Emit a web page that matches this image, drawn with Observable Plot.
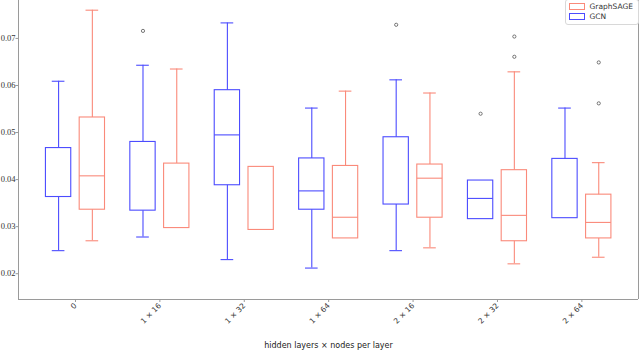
<!DOCTYPE html>
<html>
<head>
<meta charset="utf-8">
<script src="https://cdn.jsdelivr.net/npm/d3@7"></script>
<script src="https://cdn.jsdelivr.net/npm/@observablehq/plot@0.6"></script>
<style>
  body { margin: 0; background: #fff; }
  #wrap { position: relative; width: 640px; height: 352px; overflow: hidden; }
  #legend { position: absolute; top: -1px; right: 1px; background: #fff; border: 1px solid #d8d8d8; border-radius: 3px;
            padding: 2px 5px 2px 3px; font: 7.5px "DejaVu Sans", sans-serif; color: #333; line-height: 10px; }
  #legend .sw { display: inline-block; width: 14px; height: 5px; border: 1px solid; vertical-align: middle; margin-right: 5px; }
</style>
</head>
<body>
<div id="wrap"></div>
<script>
// ---- data ----
const categories = ["0", "1 × 16", "1 × 32", "1 × 64", "2 × 16", "2 × 32", "2 × 64"];
const series = ["GraphSAGE", "GCN"];
const colors = ["#fa8a7a", "#4c4cff"];

// GCN box statistics (null = not drawn in the reference)
const gcnLo  = [0.0249, 0.0278, 0.0230, 0.0212, 0.0249, null,   null];
const gcnQ1  = [0.0363, 0.0334, 0.0388, 0.0336, 0.0347, 0.0316, 0.0318];
const gcnMed = [null,   null,   0.0495, 0.0376, null,   0.0360, null];
const gcnQ3  = [0.0467, 0.0480, 0.0590, 0.0445, 0.0490, 0.0398, 0.0444];
const gcnHi  = [0.0609, 0.0643, 0.0733, 0.0552, 0.0612, null,   0.0552];
const gcnOut = [[], [0.0716], [], [], [0.0729], [0.0540], []];

// GraphSAGE box statistics
const sageLo  = [0.0270, null,   null,   null,   0.0255, 0.0221, 0.0235];
const sageQ1  = [0.0336, 0.0297, 0.0293, 0.0275, 0.0319, 0.0269, 0.0275];
const sageMed = [0.0408, null,   null,   0.0320, 0.0403, 0.0324, 0.0309];
const sageQ3  = [0.0532, 0.0434, 0.0427, 0.0429, 0.0432, 0.0420, 0.0368];
const sageHi  = [0.0760, 0.0635, null,   0.0588, 0.0584, 0.0629, 0.0436];
const sageOut = [[], [], [], [], [], [0.0704, 0.0661], [0.0649, 0.0562]];

const yTicks = [0.02, 0.03, 0.04, 0.05, 0.06, 0.07];
const xLabel = "hidden layers × nodes per layer";

// ---- layout ----
const offset = {GCN: -0.2, GraphSAGE: 0.2};
const boxHalf = 0.15, capHalf = 0.075;
const xDomain = [-0.675, 6.671];
const yDomain = [0.01452, 0.07806];

const stats = {
  GCN: {lo: gcnLo, q1: gcnQ1, med: gcnMed, q3: gcnQ3, hi: gcnHi, out: gcnOut},
  GraphSAGE: {lo: sageLo, q1: sageQ1, med: sageMed, q3: sageQ3, hi: sageHi, out: sageOut}
};
const rows = [];
const outliers = [];
for (const s of series) {
  const st = stats[s];
  categories.forEach((c, i) => {
    const cx = i + offset[s];
    rows.push({s, i, cx, lo: st.lo[i], q1: st.q1[i], med: st.med[i], q3: st.q3[i], hi: st.hi[i]});
    st.out[i].forEach(v => outliers.push({s, cx, v}));
  });
}
const has = k => rows.filter(d => d[k] != null);

const chart = Plot.plot({
  width: 640, height: 352,
  marginLeft: 18, marginRight: 2, marginTop: 0, marginBottom: 53,
  x: {type: "linear", domain: xDomain},
  y: {domain: yDomain},
  color: {domain: series, range: colors},
  style: {background: "#fff"},
  marks: [
    Plot.ruleX([xDomain[0], xDomain[1]], {stroke: "#9a9a9a"}),
    Plot.ruleY([yDomain[0]], {stroke: "#9a9a9a"}),
    Plot.axisY(yTicks, {tickFormat: ".2f", tickSize: 2.5, tickPadding: 0.5, stroke: "#9a9a9a", fill: "#333",
      fontFamily: "Liberation Serif, serif", fontSize: 8.5, label: null}),
    Plot.axisX(categories.map((c, i) => i), {tickFormat: i => categories[i], tickRotate: -45, tickSize: 3, tickPadding: 2,
      stroke: "#9a9a9a", fill: "#333", fontFamily: "DejaVu Sans, sans-serif", fontSize: 7.5, label: null}),
    Plot.text([xLabel], {frameAnchor: "bottom", dy: 48, fontFamily: "DejaVu Sans, sans-serif", fontSize: 8, fill: "#222"}),
    // whiskers
    Plot.ruleX(has("hi"), {x: "cx", y1: "q3", y2: "hi", stroke: "s", strokeWidth: 1.1}),
    Plot.ruleX(has("lo"), {x: "cx", y1: "q1", y2: "lo", stroke: "s", strokeWidth: 1.1}),
    // caps
    Plot.ruleY(has("hi"), {y: "hi", x1: d => d.cx - capHalf, x2: d => d.cx + capHalf, stroke: "s", strokeWidth: 1.1}),
    Plot.ruleY(has("lo"), {y: "lo", x1: d => d.cx - capHalf, x2: d => d.cx + capHalf, stroke: "s", strokeWidth: 1.1}),
    // boxes
    Plot.rect(rows, {x1: d => d.cx - boxHalf, x2: d => d.cx + boxHalf, y1: "q1", y2: "q3", fill: "none", stroke: "s", strokeWidth: 1.1}),
    // medians
    Plot.ruleY(has("med"), {y: "med", x1: d => d.cx - boxHalf, x2: d => d.cx + boxHalf, stroke: "s", strokeWidth: 1.1}),
    // outliers
    Plot.dot(outliers, {x: "cx", y: "v", r: 1.6, stroke: "#555", fill: "none", strokeWidth: 0.8})
  ]
});

const wrap = document.getElementById("wrap");
wrap.appendChild(chart);
const legend = document.createElement("div");
legend.id = "legend";
legend.innerHTML = series.map((s, k) =>
  `<div><span class="sw" style="border-color:${colors[k]}"></span>${s}</div>`).join("");
wrap.appendChild(legend);
</script>
</body>
</html>
